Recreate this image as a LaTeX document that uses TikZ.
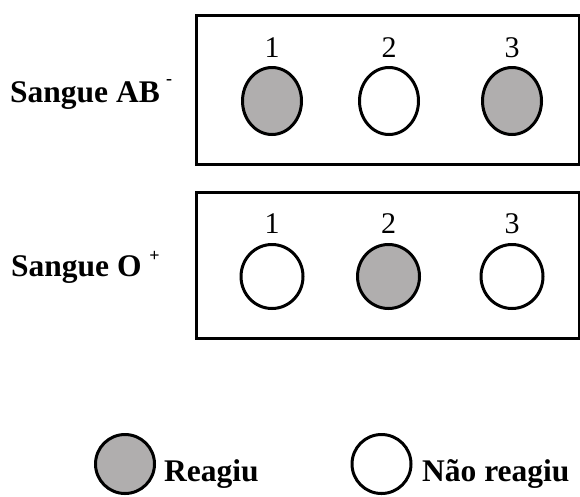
\documentclass[tikz,border=0pt]{standalone}
\usepackage{fontspec}
\setmainfont{Liberation Serif}
\usetikzlibrary{shapes.geometric}
\definecolor{reacted}{RGB}{176,174,174}
\begin{document}
\begin{tikzpicture}[x=1pt,y=-1pt,
  panel/.style={draw, line width=3pt},
  wellA/.style={ellipse, draw, line width=3pt, inner sep=0pt, minimum width=59pt, minimum height=67pt},
  wellB/.style={ellipse, draw, line width=3pt, inner sep=0pt, minimum width=62pt, minimum height=64pt},
  yes/.style={fill=reacted},
  no/.style={fill=white},
  legdot/.style={circle, draw, line width=3pt, inner sep=0pt, minimum size=59pt},
  num/.style={anchor=base, font=\fontsize{30}{36}\selectfont, inner sep=0pt},
  lbl/.style={anchor=base west, font=\fontsize{31.5}{36}\selectfont\bfseries, inner sep=0pt}]
\useasboundingbox (0,0) rectangle (580,496);
\fill[white] (0,0) rectangle (580,496);
% panels
\node[panel, minimum width=383pt, minimum height=149pt, inner sep=0pt, anchor=north west] (p1) at (195,13.5) {};
\node[panel, minimum width=383pt, minimum height=146pt, inner sep=0pt, anchor=north west] (p2) at (195,190.7) {};
% row labels
\node[lbl] (l1) at (10,102) {Sangue AB\hspace{0.2em}\raisebox{0.55em}{\fontsize{18}{20}\selectfont -}};
\node[lbl] (l2) at (11,276) {Sangue O\hspace{0.25em}\raisebox{0.45em}{\fontsize{18}{20}\selectfont +}};
% row 1
\node[wellA, yes] (a1) at (272,101) {};
\node[wellA, no]  (a2) at (389,101) {};
\node[wellA, yes] (a3) at (512,101) {};
\node[num] (na1) at (272,57) {1};
\node[num] (na2) at (389,57) {2};
\node[num] (na3) at (512,57) {3};
% row 2
\node[wellB, no]  (b1) at (272,276.5) {};
\node[wellB, yes] (b2) at (388.5,276.5) {};
\node[wellB, no]  (b3) at (512,276.5) {};
\node[num] (nb1) at (272,233) {1};
\node[num] (nb2) at (388.5,233) {2};
\node[num] (nb3) at (512,233) {3};
% legend
\node[legdot, yes] (k1) at (125,464) {};
\node[lbl] (t1) at (164,481) {Reagiu};
\node[legdot, no] (k2) at (381.5,464) {};
\node[lbl] (t2) at (422,481) {Não reagiu};
\end{tikzpicture}
\end{document}
